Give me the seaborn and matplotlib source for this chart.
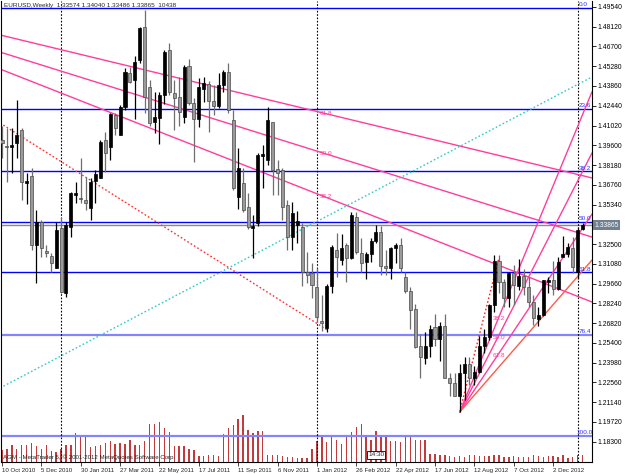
#%% bibliotecas
import numpy as np
import pandas as pd
import seaborn as sns
import matplotlib
matplotlib.use("Agg")
import matplotlib.pyplot as plt
import matplotlib.transforms as mtransforms

#%% dados - EURUSD semanal (out 2010 - jan 2013)
opens = [1.3998, 1.3955, 1.3945, 1.3976, 1.4070, 1.3690, 1.3739, 1.3243, 1.3408, 1.3200,
         1.3164, 1.3077, 1.3365, 1.2898, 1.3372, 1.3603, 1.3580, 1.3570, 1.3509, 1.3703,
         1.3725, 1.3998, 1.3947, 1.4178, 1.4034, 1.4235, 1.4480, 1.4430, 1.4573, 1.4810,
         1.4380, 1.4130, 1.4156, 1.4320, 1.4645, 1.4336, 1.4310, 1.4163, 1.4530, 1.4264,
         1.4150, 1.4364, 1.4400, 1.4280, 1.4240, 1.4390, 1.4490, 1.4141, 1.3588, 1.3689,
         1.3516, 1.3365, 1.3401, 1.3880, 1.3854, 1.4127, 1.3790, 1.3782, 1.3530, 1.3300,
         1.3387, 1.3372, 1.3049, 1.3041, 1.2940, 1.2700, 1.2646, 1.2946, 1.3210, 1.3135,
         1.3243, 1.3150, 1.3444, 1.3185, 1.3120, 1.3180, 1.3270, 1.3340, 1.3090, 1.3080,
         1.3220, 1.3240, 1.3010, 1.2910, 1.2780, 1.2520, 1.2430, 1.2520, 1.2650, 1.2570,
         1.2660, 1.2290, 1.2250, 1.2155, 1.2320, 1.2390, 1.2290, 1.2330, 1.2520, 1.2580,
         1.2810, 1.3130, 1.2980, 1.2860, 1.3040, 1.2950, 1.3020, 1.2940, 1.2830, 1.2710,
         1.2740, 1.2980, 1.2990, 1.2930, 1.3160, 1.3180, 1.3220, 1.3049, 1.33574]
highs = [1.4100, 1.4084, 1.4084, 1.4285, 1.4085, 1.3760, 1.3796, 1.3494, 1.3423, 1.3243,
         1.3185, 1.3408, 1.3444, 1.3408, 1.3624, 1.3696, 1.3868, 1.3732, 1.3725, 1.3782,
         1.3998, 1.4055, 1.4192, 1.4192, 1.4249, 1.4515, 1.4523, 1.4600, 1.4810, 1.4932,
         1.4430, 1.4345, 1.4345, 1.4645, 1.4695, 1.4430, 1.4450, 1.4540, 1.4580, 1.4300,
         1.4440, 1.4450, 1.4420, 1.4390, 1.4480, 1.4500, 1.4550, 1.4210, 1.3940, 1.3800,
         1.3620, 1.3460, 1.3905, 1.3960, 1.4235, 1.4127, 1.3854, 1.3800, 1.3566, 1.3550,
         1.3490, 1.3400, 1.3192, 1.3110, 1.3080, 1.2883, 1.2960, 1.3240, 1.3330, 1.3320,
         1.3260, 1.3480, 1.3480, 1.3290, 1.3190, 1.3290, 1.3385, 1.3380, 1.3210, 1.3230,
         1.3260, 1.3290, 1.3050, 1.2940, 1.2820, 1.2600, 1.2620, 1.2670, 1.2750, 1.2690,
         1.2750, 1.2320, 1.2320, 1.2390, 1.2440, 1.2440, 1.2370, 1.2590, 1.2640, 1.2820,
         1.3170, 1.3170, 1.3000, 1.3050, 1.3100, 1.3140, 1.3070, 1.3010, 1.2880, 1.2800,
         1.2990, 1.3010, 1.3130, 1.3160, 1.3308, 1.3260, 1.3300, 1.3370, 1.34040]
lows = [1.3870, 1.3696, 1.3760, 1.3868, 1.3566, 1.3540, 1.3207, 1.2970, 1.3157, 1.3157,
        1.3049, 1.3077, 1.2898, 1.2869, 1.3300, 1.3545, 1.3545, 1.3494, 1.3423, 1.3545,
        1.3725, 1.3768, 1.3854, 1.4034, 1.4034, 1.4213, 1.4408, 1.4150, 1.4550, 1.4192,
        1.4100, 1.4050, 1.3970, 1.4260, 1.4320, 1.4070, 1.4100, 1.4120, 1.4250, 1.3840,
        1.4090, 1.4270, 1.4055, 1.4178, 1.4230, 1.4340, 1.4190, 1.3640, 1.3500, 1.3480,
        1.3360, 1.3150, 1.3380, 1.3650, 1.3820, 1.3602, 1.3602, 1.3420, 1.3207, 1.3210,
        1.3260, 1.2950, 1.2970, 1.2860, 1.2689, 1.2624, 1.2620, 1.2900, 1.3010, 1.3100,
        1.2977, 1.3140, 1.3180, 1.3050, 1.3000, 1.3120, 1.3260, 1.3030, 1.3030, 1.3000,
        1.3110, 1.3050, 1.2900, 1.2640, 1.2500, 1.2290, 1.2390, 1.2440, 1.2520, 1.2410,
        1.2290, 1.2160, 1.2160, 1.2042, 1.2130, 1.2240, 1.2240, 1.2320, 1.2470, 1.2560,
        1.2760, 1.2900, 1.2800, 1.2800, 1.2810, 1.2920, 1.2880, 1.2800, 1.2670, 1.2660,
        1.2730, 1.2900, 1.2880, 1.2920, 1.3160, 1.3160, 1.3040, 1.3000, 1.33486]
closes = [1.3976, 1.3947, 1.3962, 1.4034, 1.3696, 1.3700, 1.3243, 1.3408, 1.3221, 1.3185,
          1.3113, 1.3351, 1.2905, 1.3387, 1.3617, 1.3617, 1.3575, 1.3545, 1.3696, 1.3753,
          1.3983, 1.3904, 1.4185, 1.4084, 1.4235, 1.4487, 1.4415, 1.4560, 1.4803, 1.4307,
          1.4120, 1.4160, 1.4321, 1.4630, 1.4343, 1.4300, 1.4200, 1.4523, 1.4264, 1.4150,
          1.4380, 1.4407, 1.4280, 1.4240, 1.4390, 1.4490, 1.4210, 1.3653, 1.3796, 1.3494,
          1.3370, 1.3380, 1.3890, 1.3895, 1.4141, 1.3782, 1.3760, 1.3516, 1.3300, 1.3470,
          1.3415, 1.3050, 1.3027, 1.2955, 1.2725, 1.2680, 1.2950, 1.3228, 1.3160, 1.3221,
          1.3150, 1.3459, 1.3192, 1.3113, 1.3180, 1.3270, 1.3340, 1.3090, 1.3080, 1.3220,
          1.3240, 1.3075, 1.2910, 1.2775, 1.2510, 1.2435, 1.2520, 1.2640, 1.2570, 1.2660,
          1.2290, 1.2250, 1.2160, 1.2320, 1.2390, 1.2290, 1.2330, 1.2520, 1.2580, 1.2810,
          1.3130, 1.2980, 1.2860, 1.3040, 1.2955, 1.3020, 1.2940, 1.2833, 1.2717, 1.2740,
          1.2990, 1.2990, 1.2930, 1.3120, 1.3180, 1.3228, 1.3085, 1.3351, 1.33865]
# tick volume (semanal)
volumes = [18700, 20700, 26000, 20700, 27000, 27000, 29600, 24500, 20700, 26000,
           17200, 15600, 20700, 27000, 26000, 45200, 42600, 40100, 23400, 24500,
           26000, 29600, 32300, 28500, 29600, 28500, 33900, 27000, 27000, 32300,
           59700, 59700, 62400, 53000, 46800, 24500, 24500, 24500, 20700, 19200,
           9400, 8900, 10400, 10400, 8900, 44100, 53500, 57300, 67500, 72900,
           49500, 45200, 47900, 47900, 10400, 10400, 10400, 8900, 7800, 7800,
           6700, 6700, 6700, 19800, 32300, 42600, 31200, 39000, 34800, 28500,
           41700, 46800, 54600, 59700, 42600, 34800, 48400, 40100, 39000, 32800,
           32800, 31200, 40100, 40100, 34800, 34800, 34800, 12900, 12900, 10400,
           10400, 8900, 7800, 8900, 7800, 10400, 10400, 8900, 8900, 9400,
           10400, 10400, 7800, 7800, 9400, 7800, 7800, 7800, 10400, 9400,
           7800, 9400, 8900, 7800, 10400, 6700, 7800, 10400, 10438]

date_idx = [0, 8, 16, 24, 32, 40, 48, 56, 64, 72, 80, 88, 96, 104, 112]
date_labels = ["10 Oct 2010", "5 Dec 2010", "30 Jan 2011", "27 Mar 2011", "22 May 2011",
               "17 Jul 2011", "11 Sep 2011", "6 Nov 2011", "1 Jan 2012", "26 Feb 2012",
               "22 Apr 2012", "17 Jun 2012", "12 Aug 2012", "7 Oct 2012", "2 Dec 2012"]
year_sep = [12, 64, 117]   # primeira semana de cada ano

# escala de precos (o nivel 1.33920 fica escondido pela caixa do preco atual)
price_ticks = [1.49540 - 0.0142 * k for k in range(23) if k != 11]

# objetos desenhados no grafico (indice da barra, preco)
fib_high, fib_low = 1.4947, 1.1870
fib_levels = [0.0, 23.6, 38.2, 50.0, 61.8, 76.4, 100.0]
fan_down = {"61.8": (-0.4, 1.4753, 119.9, 1.3725),
            "50.0": (-0.4, 1.4630, 119.9, 1.3300),
            "38.2": (-0.4, 1.4508, 119.9, 1.2833)}
trend_red_dotted = (-0.4, 1.4120, 66.1, 1.2632)
trend_cyan = (-0.4, 1.2215, 119.9, 1.4451)
fan_up_p1 = (93, 1.2042)
fan_up_p2 = (101, 1.3150)
fan_up_levels = [38.2, 50.0, 61.8]
support_red = (93, 1.2042, 119.9, 1.3135)

title_txt = "EURUSD,Weekly  1.33574 1.34040 1.33486 1.33865  10438"
copy_txt = "AGM - MetaTrader 5, \u00a9 2001-2012 MetaQuotes Software Corp."

#%% figura
sns.set_style("white")
plt.rcParams['font.family'] = ['Liberation Sans', 'DejaVu Sans']

W, H = 625, 474
fig = plt.figure(figsize=(W / 100, H / 100), dpi=100)
ax = fig.add_axes([1 / W, 12 / H, 591 / W, 461 / H])
ax2 = ax.twinx()

n = len(closes)
idx = np.arange(n)
XMIN, XMAX = -0.2, 119.9
YMIN, YMAX = 1.1683, 1.4997

# volumes (eixo secundario, na base)
vol_df = pd.DataFrame({"bar": idx, "vol": volumes})
sns.barplot(data=vol_df, x="bar", y="vol", native_scale=True, width=0.28,
            color="#c23a3a", saturation=1, linewidth=0, errorbar=None, ax=ax2)
ax2.set_ylim(0, 461 * 1560)
ax2.set_yticks([])
ax2.set_ylabel("")
ax2.set_xlabel("")
for s in ax2.spines.values():
    s.set_visible(False)

ax.set_zorder(ax2.get_zorder() + 1)
ax.patch.set_visible(False)

# linhas de Fibonacci (horizontais)
for lv in fib_levels:
    p = fib_high - lv / 100 * (fib_high - fib_low)
    light = lv in (76.4, 100.0)
    ax.axhline(p, color="#8484ff" if light else "#0000ff", lw=1.6 if light else 1.0, zorder=1)
    ax.text(117.2 if lv < 100 else 116.8, p + 0.0006, f"{lv:.1f}", color="#3030ff",
            fontsize=4.6, va="bottom", ha="left", zorder=6)

# linha do preco atual
ax.axhline(closes[-1], color="#8a8a8a", lw=1.0, zorder=1)

# separadores de ano
for s in year_sep:
    ax.axvline(s, color="black", lw=0.8, ls=(0, (1.5, 1.5)), zorder=1)

def seg(line, **kw):
    x0, y0, x1, y1 = line
    ax.plot([x0, x1], [y0, y1], **kw)

def at(line, x):
    x0, y0, x1, y1 = line
    return y0 + (y1 - y0) * (x - x0) / (x1 - x0)

# leque de Fibonacci descendente
for lab, line in fan_down.items():
    seg(line, color="#ff3d9e", lw=1.0, zorder=2)
    ax.text(64.5, at(line, 65.5), lab, color="#ff3d9e", fontsize=4.6, va="center", zorder=6)
seg(trend_red_dotted, color="#ff3030", lw=1.0, ls=(0, (1.2, 1.6)), zorder=2)
seg(trend_cyan, color="#35c8c8", lw=1.0, ls=(0, (1.2, 1.6)), zorder=2)

# leque de Fibonacci ascendente
i1, p1 = fan_up_p1
i2, p2 = fan_up_p2
seg((i1, p1, i2, p2), color="#ff2020", lw=1.0, ls=(0, (1.2, 1.6)), zorder=2)
for lv in fan_up_levels:
    pt = p2 - lv / 100 * (p2 - p1)
    slope = (pt - p1) / (i2 - i1)
    line = (i1, p1, XMAX, p1 + slope * (XMAX - i1))
    seg(line, color="#ff3d9e", lw=1.0, zorder=2)
    ax.text(99.7, at(line, 101) - 0.0015, f"{lv:.1f}", color="#ff3d9e", fontsize=4.6,
            va="center", zorder=6)
seg(support_red, color="#ff5a4a", lw=1.0, zorder=2)

# candles
bull = np.array(closes) >= np.array(opens)
for i in range(n):
    o, h, l, c = opens[i], highs[i], lows[i], closes[i]
    if bull[i]:
        wc, fc, ec = "black", "black", "black"
    else:
        wc, fc, ec = "#6e6e6e", "#9a9a9a", "#4a4a4a"
    ax.vlines(i, l, h, color=wc, lw=0.9, zorder=4)
    ax.bar(i, max(abs(c - o), 0.0003), bottom=min(o, c), width=0.62,
           color=fc, edgecolor=ec, linewidth=0.5, zorder=5)

#%% eixos
ax.set_xlim(XMIN, XMAX)
ax.set_ylim(YMIN, YMAX)
ax.yaxis.tick_right()
ax.set_yticks(price_ticks)
ax.set_yticklabels([f"{v:.5f}" for v in price_ticks])
ax.tick_params(axis="y", right=True, left=False, labelright=True, labelleft=False,
               length=3, width=0.6, labelsize=4.9, pad=1, colors="black")
ax.set_xticks(date_idx)
ax.set_xticklabels(date_labels, ha="left")
ax.tick_params(axis="x", bottom=True, length=3, width=0.6, labelsize=4.4, pad=1)
for lbl in ax.get_xticklabels():
    lbl.set_horizontalalignment("left")
ax.spines["top"].set_visible(False)
for k in ("left", "right", "bottom"):
    ax.spines[k].set_color("black")
    ax.spines[k].set_linewidth(0.8)

# caixa do preco atual
trans = mtransforms.blended_transform_factory(ax.transAxes, ax.transData)
ax.text(1.004, closes[-1], f"{closes[-1]:.5f}", transform=trans, ha="left", va="center",
        fontsize=4.9, color="white", zorder=10, clip_on=False,
        bbox=dict(boxstyle="square,pad=0.25", fc="#6f8090", ec="none"))

# textos
fig.text(4 / W, 1 - 6 / H, title_txt, fontsize=4.6, va="center", ha="left")
fig.text(3 / W, (H - 457) / H, copy_txt, fontsize=4.4, va="center", ha="left")
fig.text(368 / W, (H - 455) / H, "14:30", fontsize=4.6, va="center", ha="left",
         bbox=dict(boxstyle="square,pad=0.2", fc="white", ec="black", lw=0.6))

fig.savefig("out.png", dpi=100, facecolor="white")
